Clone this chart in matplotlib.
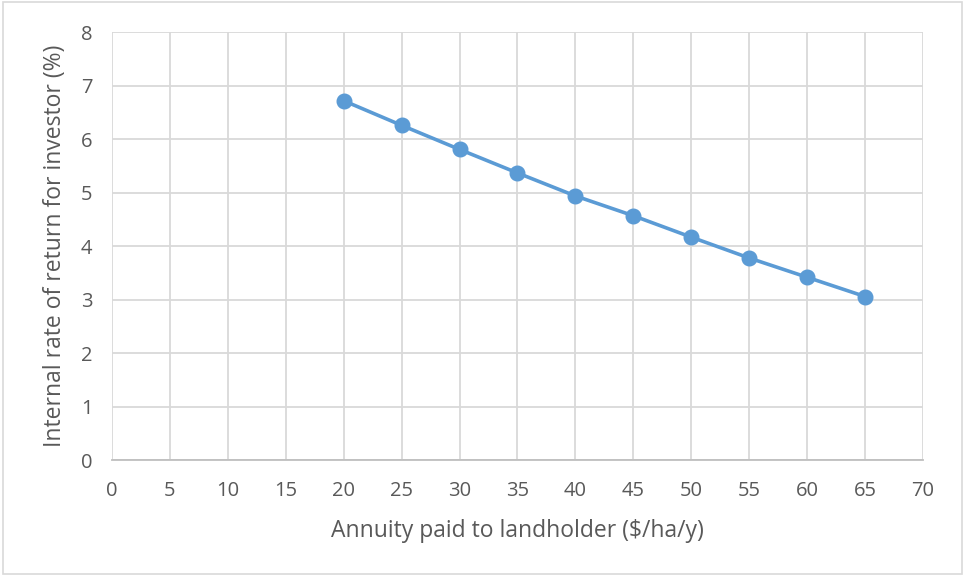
import matplotlib.pyplot as plt
from matplotlib.patches import Rectangle

plt.rcParams['font.family'] = ['Open Sans', 'DejaVu Sans']

annuity = [20, 25, 30, 35, 40, 45, 50, 55, 60, 65]
irr = [6.72, 6.26, 5.81, 5.37, 4.94, 4.57, 4.17, 3.78, 3.42, 3.06]
x_ticks = list(range(0, 75, 5))
y_ticks = list(range(0, 9))

text_col = '#595959'
grid_col = '#d9d9d9'
line_col = '#5b9bd5'

fig = plt.figure(figsize=(9.65, 5.76), dpi=100)
ax = fig.add_axes([0.116, 0.201, 0.8405, 0.743])

ax.plot(annuity, irr, color=line_col, lw=2.6, marker='o', ms=10.5, zorder=3)

ax.set_xlim(0, 70)
ax.set_ylim(0, 8)
ax.set_xticks(x_ticks)
ax.set_yticks(y_ticks)
ax.grid(True, color=grid_col, lw=1.3)
ax.set_axisbelow(True)
for s in ['top', 'right', 'left']:
    ax.spines[s].set_visible(False)
ax.spines['bottom'].set_color('#bfbfbf')
ax.spines['bottom'].set_linewidth(1.3)
ax.tick_params(length=0, labelsize=14.5, colors=text_col)
ax.tick_params(axis='x', pad=15)
ax.tick_params(axis='y', pad=14)

ax.set_xlabel('Annuity paid to landholder ($/ha/y)', fontsize=16.5, color=text_col, labelpad=13)
ax.set_ylabel('Internal rate of return for investor (%)', fontsize=16.5, color=text_col, labelpad=10)

fig.patches.append(Rectangle((0.003, 0.004), 0.994, 0.992, transform=fig.transFigure,
                             fill=False, edgecolor='#d9d9d9', lw=1.2))

fig.savefig('out.png', dpi=100)
